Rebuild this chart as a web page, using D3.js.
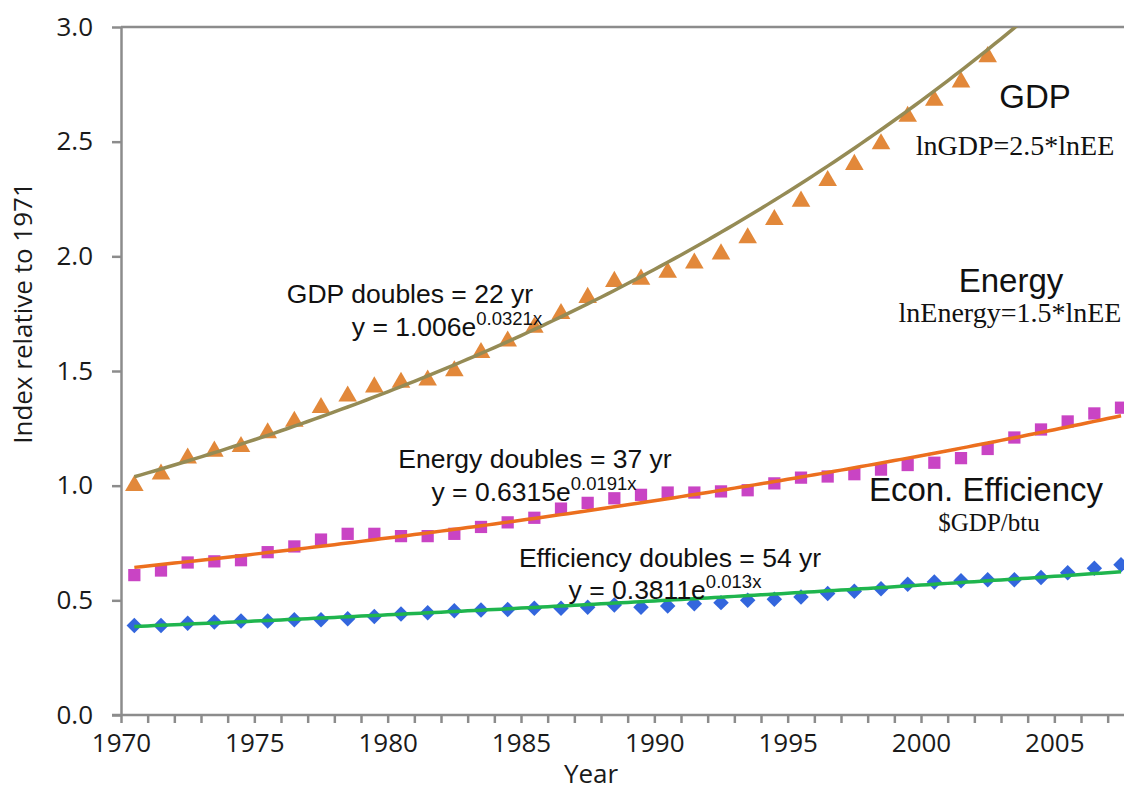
<!DOCTYPE html>
<meta charset="utf-8">
<script src="https://d3js.org/d3.v7.min.js"></script>
<style>
    body { margin: 0; background: #fff; }
    .axis path, .axis line { stroke: #8c8c8c; stroke-width: 2.5; }
    .axis text { font: 26px 'Open Sans', sans-serif; fill: #1a1a1a; }
    .ann { font-family: Arial, 'Liberation Sans', sans-serif; fill: #111; }
    .eq { font-family: 'Times New Roman', 'Liberation Serif', serif; fill: #111; }
</style>
<svg id="chart" width="1124" height="792"></svg>
<script>
    // data years (index 1 = 1971)
    const years = [1971, 1972, 1973, 1974, 1975, 1976, 1977, 1978, 1979, 1980,
        1981, 1982, 1983, 1984, 1985, 1986, 1987, 1988, 1989, 1990,
        1991, 1992, 1993, 1994, 1995, 1996, 1997, 1998, 1999, 2000,
        2001, 2002, 2003, 2004, 2005, 2006, 2007, 2008];
    const gdp = [1.00, 1.05, 1.12, 1.15, 1.17, 1.23, 1.28, 1.34, 1.39, 1.43,
        1.45, 1.46, 1.50, 1.58, 1.63, 1.69, 1.75, 1.82, 1.89, 1.90,
        1.93, 1.97, 2.01, 2.08, 2.16, 2.24, 2.33, 2.40, 2.49, 2.61,
        2.68, 2.76, 2.87];
    const energy = [0.61, 0.63, 0.665, 0.67, 0.675, 0.71, 0.735, 0.765, 0.79, 0.79,
        0.78, 0.78, 0.79, 0.82, 0.84, 0.86, 0.90, 0.925, 0.945, 0.96,
        0.97, 0.97, 0.975, 0.98, 1.01, 1.035, 1.04, 1.05, 1.07, 1.09,
        1.10, 1.12, 1.16, 1.21, 1.245, 1.28, 1.315, 1.34];
    const efficiency = [0.39, 0.39, 0.40, 0.405, 0.41, 0.41, 0.415, 0.415, 0.42, 0.43,
        0.44, 0.446, 0.455, 0.458, 0.46, 0.465, 0.465, 0.47, 0.48, 0.47,
        0.475, 0.485, 0.49, 0.50, 0.505, 0.515, 0.53, 0.54, 0.55, 0.57,
        0.58, 0.585, 0.59, 0.59, 0.60, 0.62, 0.64, 0.655];
    // exponential trendlines y = a * e^(b x), x = 1..38
    const trendNames = ["GDP", "Energy", "Efficiency"];
    const trendA = [1.006, 0.6315, 0.3811];
    const trendB = [0.0321, 0.0191, 0.013];
    const xTickYears = [1970, 1975, 1980, 1985, 1990, 1995, 2000, 2005];
    const yTicks = [0, 0.5, 1.0, 1.5, 2.0, 2.5, 3.0];

    const margin = { left: 121, top: 27, bottom: 77 };
    const W = 1124, H = 792;
    const svg = d3.select("#chart");

    const x = d3.scaleLinear().domain([1970, 2008]).range([margin.left, margin.left + 38 * 26.667]);
    const y = d3.scaleLinear().domain([0, 3]).range([H - margin.bottom, margin.top]);
    // markers sit mid-year
    const xPos = yr => x(yr - 0.5);

    svg.append("clipPath").attr("id", "plotclip")
        .append("rect")
        .attr("x", margin.left).attr("y", margin.top - 10)
        .attr("width", W - margin.left).attr("height", y(0) - margin.top + 10);
    svg.append("clipPath").attr("id", "lineclip")
        .append("rect")
        .attr("x", margin.left).attr("y", margin.top)
        .attr("width", W - margin.left).attr("height", y(0) - margin.top);

    // top border of plot area
    svg.append("line")
        .attr("x1", margin.left).attr("x2", W)
        .attr("y1", y(3)).attr("y2", y(3))
        .attr("stroke", "#8c8c8c").attr("stroke-width", 2.5);

    // axes
    const minorYears = d3.range(1970, 2008);
    svg.append("g").attr("class", "axis")
        .attr("transform", `translate(0,${y(0)})`)
        .call(d3.axisBottom(x).tickValues(minorYears).tickSize(8).tickSizeOuter(0)
            .tickFormat(d => xTickYears.includes(d) ? d : ""))
        .call(g => g.select(".domain").attr("d", `M${margin.left - 9},0H${W}`))
        .call(g => g.selectAll("text").attr("y", 14).attr("dy", "0.9em"));

    svg.append("g").attr("class", "axis")
        .attr("transform", `translate(${margin.left},0)`)
        .call(d3.axisLeft(y).tickValues(yTicks).tickSize(9).tickSizeOuter(0)
            .tickFormat(d3.format(".1f")))
        .call(g => g.selectAll("text").attr("x", -28));

    svg.append("text")
        .attr("transform", `translate(32,${(y(0) + y(3)) / 2 - 58}) rotate(-90)`)
        .attr("text-anchor", "middle")
        .style("font", "26px 'Open Sans', sans-serif").style("fill", "#1a1a1a")
        .text("Index relative to 1971");
    svg.append("text")
        .attr("x", 591).attr("y", 783)
        .attr("text-anchor", "middle")
        .style("font", "26px 'Open Sans', sans-serif").style("fill", "#1a1a1a")
        .text("Year");

    const plot = svg.append("g").attr("clip-path", "url(#plotclip)");
    const lines = svg.append("g").attr("clip-path", "url(#lineclip)");

    // markers
    const series = [
        { vals: efficiency, type: d3.symbolSquare, size: 120, rot: 45, color: "#3366dd" },
        { vals: energy, type: d3.symbolSquare, size: 150, rot: 0, color: "#c944c4" },
        { vals: gdp, type: d3.symbolTriangle, size: 150, rot: 0, color: "#e2883a" }
    ];
    series.forEach(s => {
        plot.append("g").selectAll("path")
            .data(s.vals)
            .join("path")
            .attr("d", d3.symbol().type(s.type).size(s.size))
            .attr("transform", (d, i) => `translate(${xPos(years[i])},${y(d)}) rotate(${s.rot})`)
            .attr("fill", s.color);
    });

    // trendlines drawn over the markers
    const trendColors = ["#958b55", "#ec6f1e", "#1fb54e"];
    const line = d3.line().x(d => xPos(1970 + d[0])).y(d => y(d[1]));
    trendNames.forEach((name, k) => {
        const pts = d3.range(1, 38.001, 0.25).map(t => [t, trendA[k] * Math.exp(trendB[k] * t)]);
        lines.append("path")
            .attr("class", "trend")
            .attr("d", line(pts))
            .attr("fill", "none")
            .attr("stroke", trendColors[k])
            .attr("stroke-width", 3.5);
    });

    // annotations
    function eqLabel(xc, yb, main, sup) {
        const t = svg.append("text").attr("class", "ann")
            .attr("x", xc).attr("y", yb).attr("text-anchor", "middle")
            .style("font-size", "26.5px");
        t.append("tspan").text(main);
        t.append("tspan").attr("dy", -11).style("font-size", "18.5px").text(sup);
    }
    function label(xc, yb, txt, size, cls) {
        svg.append("text").attr("class", cls || "ann")
            .attr("x", xc).attr("y", yb).attr("text-anchor", "middle")
            .style("font-size", size + "px").text(txt);
    }
    label(410, 303, "GDP doubles = 22 yr", 26.5);
    eqLabel(447, 336, "y = 1.006e", "0.0321x");
    label(535, 468, "Energy doubles = 37 yr", 26.5);
    eqLabel(534, 501, "y = 0.6315e", "0.0191x");
    label(670, 567, "Efficiency doubles = 54 yr", 26.5);
    eqLabel(665, 599, "y = 0.3811e", "0.013x");

    label(1035, 108, "GDP", 33);
    label(1015, 155, "lnGDP=2.5*lnEE", 28, "eq");
    label(1011, 292, "Energy", 33);
    label(1010, 322, "lnEnergy=1.5*lnEE", 28, "eq");
    label(986, 501, "Econ. Efficiency", 33);
    label(989, 531, "$GDP/btu", 25, "eq");
</script>
